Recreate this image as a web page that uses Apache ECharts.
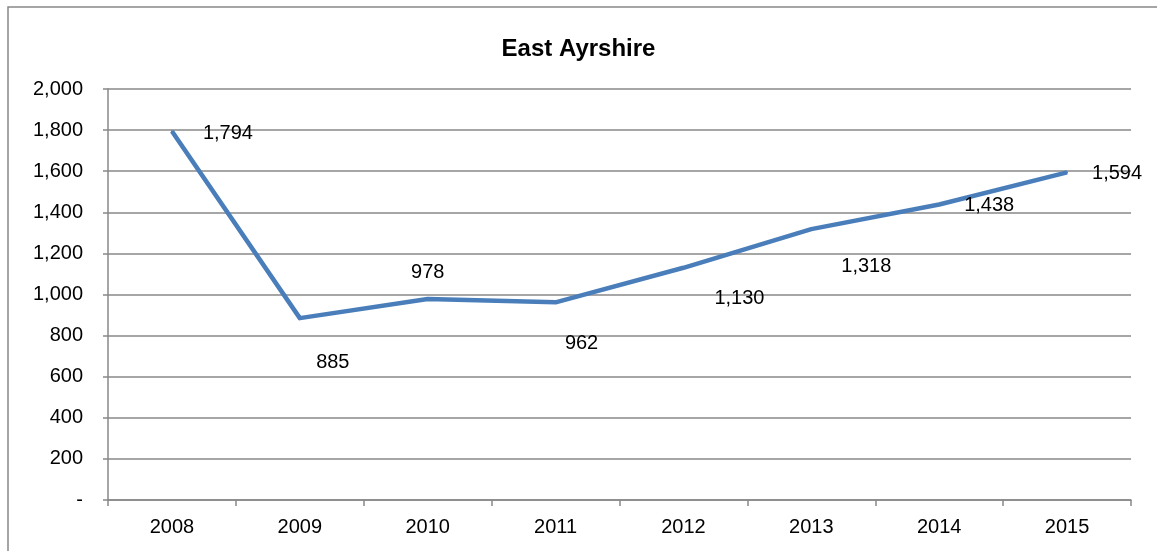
<!DOCTYPE html>
<html>
<head>
<meta charset="utf-8">
<title>East Ayrshire</title>
<script src="https://cdn.jsdelivr.net/npm/echarts@6/dist/echarts.min.js"></script>
<style>
  html, body { margin: 0; padding: 0; background: #ffffff; }
  #chart { width: 1157px; height: 551px; }
</style>
</head>
<body>
<div id="chart"></div>
<script>
// Yearly totals for East Ayrshire
const years = ['2008', '2009', '2010', '2011', '2012', '2013', '2014', '2015'];
const totals = [1794, 885, 978, 962, 1130, 1318, 1438, 1594];

// Value axis
const yMin = 0;
const yMax = 2000;
const yStep = 200;

// Where each value label's centre sits relative to its point (px)
const labelOffsets = [[56, 2], [33, 44], [0, -27], [26, 41], [56, 31], [55, 37], [50, 1], [50, 1]];

const fontFamily = 'Arial, "Liberation Sans", sans-serif';
const gridGray = '#888888';
const symbolSize = 2;

const seriesData = totals.map((v, i) => ({
  value: v,
  label: {
    position: [symbolSize / 2 + labelOffsets[i][0], symbolSize / 2 + labelOffsets[i][1]]
  }
}));

const chart = echarts.init(document.getElementById('chart'), null, { renderer: 'canvas' });

chart.setOption({
  animation: false,
  backgroundColor: '#ffffff',
  title: {
    text: 'East Ayrshire',
    left: 'center',
    top: 32,
    textStyle: { fontFamily, fontSize: 24, fontWeight: 'bold', color: '#000000' }
  },
  graphic: [{
    type: 'rect',
    shape: { x: 8, y: 7, width: 1200, height: 600 },
    style: { fill: 'none', stroke: gridGray, lineWidth: 1.5 },
    silent: true
  }],
  grid: { left: 108, right: 26, top: 89, bottom: 51, containLabel: false },
  xAxis: {
    type: 'category',
    data: years,
    boundaryGap: true,
    axisLine: { lineStyle: { color: gridGray, width: 1.5 } },
    axisTick: { show: true, length: 6, inside: false, lineStyle: { color: gridGray, width: 1.5 } },
    axisLabel: { margin: 17, fontFamily, fontSize: 20, color: '#000000' },
    splitLine: { show: false }
  },
  yAxis: {
    type: 'value',
    min: yMin,
    max: yMax,
    interval: yStep,
    axisLine: { show: true, lineStyle: { color: gridGray, width: 1.5 } },
    axisTick: { show: true, length: 5, inside: false, lineStyle: { color: gridGray, width: 1.5 } },
    axisLabel: {
      margin: 25,
      fontFamily,
      fontSize: 20,
      color: '#000000',
      formatter: v => v === 0 ? '-' : v.toLocaleString('en-US')
    },
    splitLine: { show: true, lineStyle: { color: gridGray, width: 1.5 } }
  },
  series: [{
    type: 'line',
    data: seriesData,
    symbol: 'circle',
    symbolSize: symbolSize,
    showSymbol: true,
    lineStyle: { color: '#4A7EBB', width: 4.5, cap: 'butt', join: 'round' },
    itemStyle: { color: '#4A7EBB' },
    label: {
      show: true,
      align: 'center',
      verticalAlign: 'middle',
      fontFamily,
      fontSize: 20,
      color: '#000000',
      formatter: p => p.value.toLocaleString('en-US')
    },
    labelLayout: { hideOverlap: false }
  }]
});
</script>
</body>
</html>
